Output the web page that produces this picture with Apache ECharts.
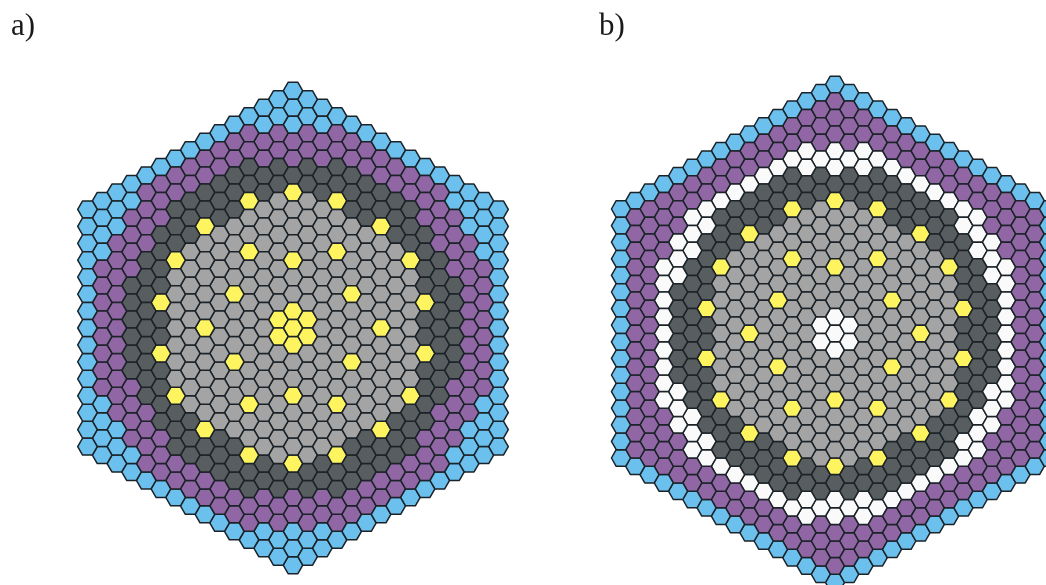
<!DOCTYPE html>
<html>
<head>
<meta charset="utf-8">
<style>html,body{margin:0;padding:0;background:#fff;overflow:hidden}#c{width:1046px;height:585px;filter:blur(0.45px)}</style>
<script src="https://cdn.jsdelivr.net/npm/echarts@6/dist/echarts.min.js"></script>
</head>
<body>
<div id="c"></div>
<script>
// Cell types, read column by column (column |q| = index) from the top edge of the core to its midline.
// B blue, P purple, D dark grey, G light grey, Y yellow, W white
var coreAColumns = [
  'BBBPPDYGGGYGGYY',
  'BBPPDDGGGGGGGY',
  'BBPPDDGGGGGGGG',
  'BPPDDYGGYGGGG',
  'BPPDDDGGGGYGG',
  'BPPDDDGGGGGG',
  'BPPDDYGGGGGY',
  'BPPDDDGGGGG',
  'BPPDDDYGGGG',
  'BPPPDDDDYD',
  'BPPPPDDDDD',
  'BBPPPPDDD',
  'BBBPPPPPP',
  'BBBBPPPP',
  'BBBBBBBB'
];
var coreBColumns = [
  'BPPPWWDYGGGYGGWW',
  'BPPPWDDGGGGGGGW',
  'BPPWWDDGGGGGGGG',
  'BPPWDDYGGYGGGG',
  'BPPWDDDGGGGYGG',
  'BPPWDDDGGGGGG',
  'BPPWDDYGGGGGY',
  'BPPWDDDGGGGG',
  'BPPWDDDYGGGG',
  'BPPWWDDDDYD',
  'BPPWWWDDDDD',
  'BPPPWWWDDD',
  'BPPPPWWWWW',
  'BPPPPPPPP',
  'BPPPPPPPP',
  'BBBBBBBB'
];
var panelLabels = ['a)', 'b)'];
var fillByType = {B:'#6bc0ee', P:'#9066a4', D:'#585d5f', G:'#a4a4a4', Y:'#fdf45f', W:'#fafafa'};

function cells(columns) {
  var out = [], radius = columns.length - 1;
  columns.forEach(function (col, q) {
    var top = -(radius - q / 2);
    col.split('').forEach(function (type, i) {
      var k = top + i;
      [[q, k], [-q, k], [q, -k], [-q, -k]].forEach(function (p, j) {
        if (q === 0 && (j === 1 || j === 3)) return;
        if (k === 0 && (j === 2 || j === 3)) return;
        out.push([p[0], p[1], type]);
      });
    });
  });
  return out;
}
function hexSeries(data, idx) {
  return {
    type: 'custom', xAxisIndex: idx, yAxisIndex: idx, clip: false, silent: true,
    data: data,
    renderItem: function (params, api) {
      var c = api.coord([api.value(0), api.value(1)]);
      var sz = api.size([1, 1]);
      var s = sz[0] * 2 / 3, h = sz[1] / 2;
      return {
        type: 'polygon',
        shape: {points: [[c[0]-s,c[1]],[c[0]-s/2,c[1]-h],[c[0]+s/2,c[1]-h],[c[0]+s,c[1]],[c[0]+s/2,c[1]+h],[c[0]-s/2,c[1]+h]]},
        style: {fill: fillByType[data[params.dataIndex][2]], stroke: '#1b2329', lineWidth: 1.5, lineJoin: 'round'}
      };
    }
  };
}
function axis(lo, hi, inverse, gridIndex) {
  return {type: 'value', gridIndex: gridIndex, min: lo, max: hi, show: false, inverse: !!inverse};
}
var chart = echarts.init(document.getElementById('c'), null, {renderer: 'canvas'});
chart.setOption({
  animation: false,
  backgroundColor: '#fff',
  title: [
    {text: panelLabels[0], left: 6, top: 6, textStyle: {fontFamily: 'Liberation Serif', fontSize: 31, fontWeight: 'normal', color: '#1a1a1a'}},
    {text: panelLabels[1], left: 594, top: 6, textStyle: {fontFamily: 'Liberation Serif', fontSize: 31, fontWeight: 'normal', color: '#1a1a1a'}}
  ],
  grid: [
    {left: 293 - 16 * 14.68, width: 32 * 14.68, top: 328 - 15 * 16.94, height: 30 * 16.94, outerBoundsMode: 'none'},
    {left: 835 - 16 * 14.27, width: 30 * 14.27, top: 333.5 - 16 * 16.6, height: 31 * 16.6, outerBoundsMode: 'none'}
  ],
  xAxis: [axis(-16, 16, false, 0), axis(-16, 14, false, 1)],
  yAxis: [axis(-15, 15, true, 0), axis(-16, 15, true, 1)],
  series: [hexSeries(cells(coreAColumns), 0), hexSeries(cells(coreBColumns), 1)]
});
</script>
</body>
</html>
